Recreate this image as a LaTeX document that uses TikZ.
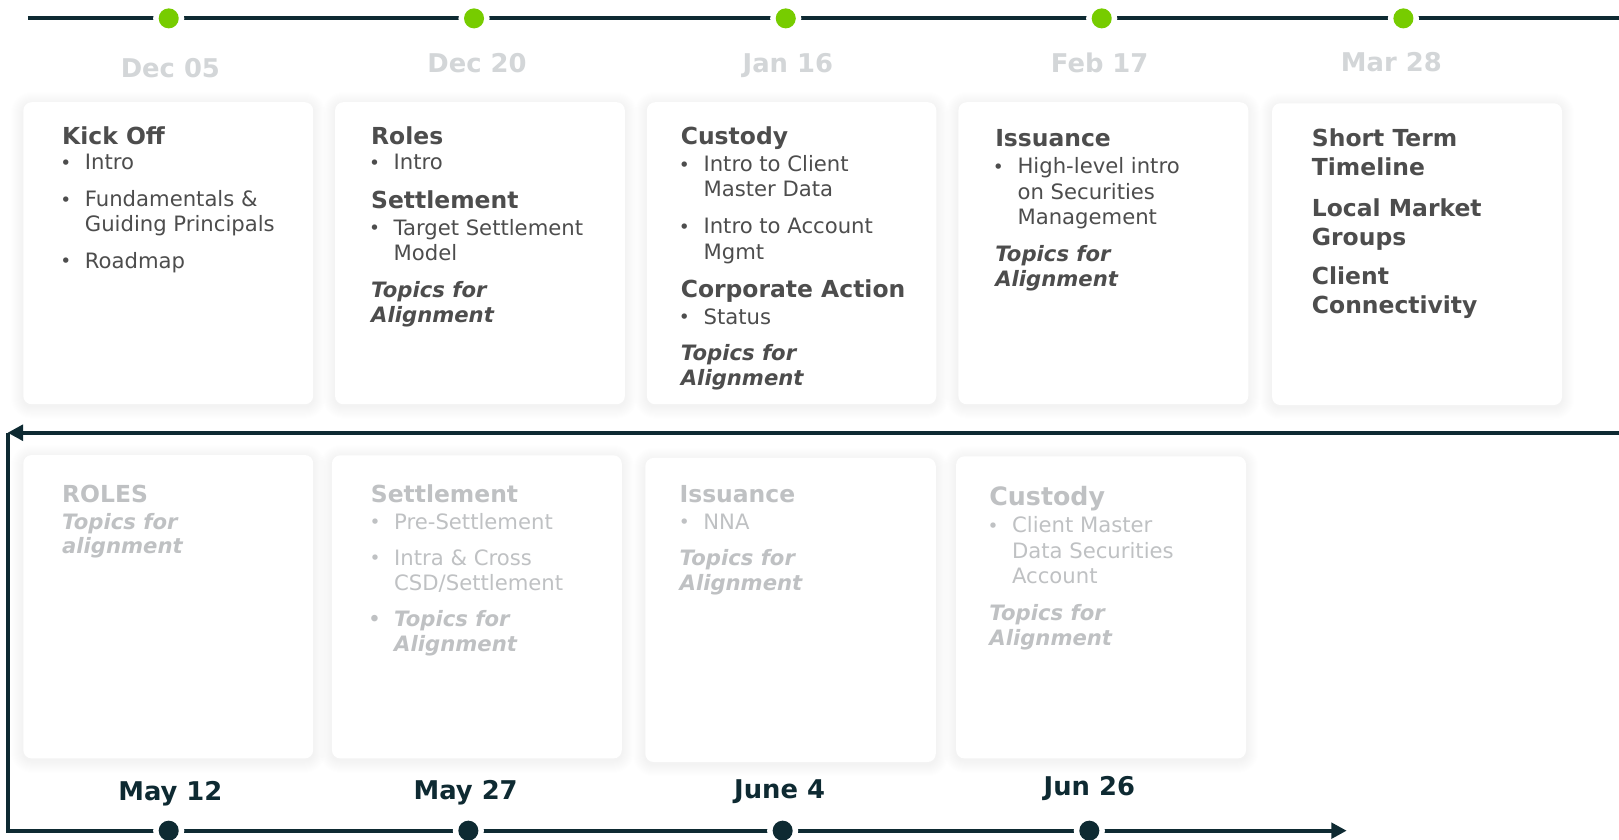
\documentclass[tikz,border=0pt]{standalone}
\usepackage{fontspec}
\setmainfont{DejaVu Sans}
\usetikzlibrary{arrows.meta}
\definecolor{ink}{HTML}{4D4D4D}
\definecolor{faint}{HTML}{BFC1C3}
\definecolor{datelight}{HTML}{D3D6D8}
\definecolor{navy}{HTML}{0E2A32}
\definecolor{lime}{HTML}{77CC00}
\newcommand\bl{\llap{\raisebox{0.5pt}{\fontsize{18pt}{18pt}\selectfont •}\hspace{13.2pt}}}
\newcommand\mkcard[5]{%
  \foreach \s in {1,...,12}{%
    \pgfmathsetmacro\rr{8+\s}%
    \fill[black, opacity=0.0055, rounded corners=\rr pt] ({#2-\s},{#3-\s+2}) rectangle ({#4+\s},{#5+\s+2});
  }%
  \pgfmathsetmacro\cw{#4-#2}\pgfmathsetmacro\ch{#5-#3}%
  \node[card, minimum width=\cw pt, minimum height=\ch pt] (#1) at ({(#2+#4)/2},{(#3+#5)/2}) {};
}
\begin{document}
\begin{tikzpicture}[x=1pt,y=-1pt,
  ttl/.style={anchor=base west, inner sep=0, text=ink, font=\fontsize{22.7pt}{27pt}\selectfont\bfseries},
  bdy/.style={anchor=base west, inner sep=0, text=ink, font=\fontsize{20.5pt}{24pt}\selectfont},
  tpc/.style={anchor=base west, inner sep=0, text=ink, font=\fontsize{20.5pt}{24pt}\selectfont\bfseries\itshape},
  past/.style={text=faint},
  topdate/.style={anchor=base, inner sep=0, text=datelight, font=\fontsize{25pt}{30pt}\selectfont\bfseries},
  botdate/.style={anchor=base, inner sep=0, text=navy, font=\fontsize{25pt}{30pt}\selectfont\bfseries},
  card/.style={fill=white, rounded corners=8pt, inner sep=0, outer sep=0},
  gdot/.style={circle, inner sep=0, minimum size=19.4pt, fill=lime, preaction={draw=white, line width=10.6pt}},
  ndot/.style={gdot, fill=navy},
  track/.style={draw=navy, line width=3.9pt},
  tip/.style={-{Triangle[length=15pt,width=15pt]}}
]
\useasboundingbox[fill=white] (0,0) rectangle (1568,813.5);

% cards
\mkcard{t1}{22.6}{99}{303.3}{391.5}
\mkcard{t2}{324.5}{99}{605.2}{391.5}
\mkcard{t3}{626.5}{99}{906.8}{391.5}
\mkcard{t4}{928.2}{99}{1209}{391.5}
\mkcard{t5}{1232}{100}{1512.8}{392.3}
\mkcard{b1}{22.6}{440.7}{303.3}{734.5}
\mkcard{b2}{321.5}{441}{602.2}{734.5}
\mkcard{b3}{625}{443.5}{906.3}{738}
\mkcard{b4}{926}{442}{1206.8}{734.5}

% tracks
\coordinate (ts) at (27.1,17.8);
\coordinate (te) at (1568,17.8);
\draw[track] (ts) -- (te);
\coordinate (rs) at (1568,419.1);
\coordinate (rc) at (7.3,419.1);
\coordinate (bc) at (7.3,804.5);
\coordinate (be) at (1304.3,804.5);
\draw[track, tip] (rs) -- (rc);
\draw[track, tip, line join=miter] (rc) -- (bc) -- (be);

\node[gdot] (g1) at (163.4,17.8) {};
\node[gdot] (g2) at (459.1,17.8) {};
\node[gdot] (g3) at (761,17.8) {};
\node[gdot] (g4) at (1067,17.8) {};
\node[gdot] (g5) at (1359.2,17.8) {};
\node[ndot] (n1) at (163.4,804.5) {};
\node[ndot] (n2) at (453.6,804.5) {};
\node[ndot] (n3) at (758,804.5) {};
\node[ndot] (n4) at (1055,804.5) {};

% dates
\node[topdate] (d1) at (165,74.9) {Dec 05};
\node[topdate] (d2) at (462,70.7) {Dec 20};
\node[topdate] (d3) at (763,70.7) {Jan 16};
\node[topdate] (d4) at (1065,70.7) {Feb 17};
\node[topdate] (d5) at (1347.5,69.7) {Mar 28};
\node[botdate] (e1) at (165,775.5) {May 12};
\node[botdate] (e2) at (451,774.5) {May 27};
\node[botdate] (e3) at (755,773) {June 4};
\node[botdate] (e4) at (1055,770.5) {Jun 26};

% top card 1
\node[ttl] (a1) at (60,139.5) {Kick Off};
\node[bdy] (a2) at (82,164.6) {\bl Intro};
\node[bdy] (a3) at (82,200.2) {\bl Fundamentals \&};
\node[bdy] (a4) at (82,224.4) {Guiding Principals};
\node[bdy] (a5) at (82,259.9) {\bl Roadmap};
% top card 2
\node[ttl] (b1) at (359.3,139.5) {Roles};
\node[bdy] (b2) at (381,164.6) {\bl Intro};
\node[ttl] (b3) at (359.3,201.8) {Settlement};
\node[bdy] (b4) at (381,227.6) {\bl Target Settlement};
\node[bdy] (b5) at (381,252.5) {Model};
\node[tpc] (b6) at (359.3,288) {Topics for};
\node[tpc] (b7) at (359.3,312) {Alignment};
% top card 3
\node[ttl] (c1) at (659.2,140.4) {Custody};
\node[bdy] (c2) at (681.2,166.3) {\bl Intro to Client};
\node[bdy] (c3) at (681.2,190.5) {Master Data};
\node[bdy] (c4) at (681.2,226.6) {\bl Intro to Account};
\node[bdy] (c5) at (681.2,250.9) {Mgmt};
\node[ttl] (c6) at (659.2,288) {Corporate Action};
\node[bdy] (c7) at (681.2,314.1) {\bl Status};
\node[tpc] (c8) at (659.2,349.3) {Topics for};
\node[tpc] (c9) at (659.2,372.9) {Alignment};
% top card 4
\node[ttl] (f1) at (963.7,142) {Issuance};
\node[bdy] (f2) at (985.3,168.5) {\bl High-level intro};
\node[bdy] (f3) at (985.3,193) {on Securities};
\node[bdy] (f4) at (985.3,217.9) {Management};
\node[tpc] (f5) at (963.7,253.4) {Topics for};
\node[tpc] (f6) at (963.7,277.7) {Alignment};
% top card 5
\node[ttl] (h1) at (1270.4,142) {Short Term};
\node[ttl] (h2) at (1270.4,170.2) {Timeline};
\node[ttl] (h3) at (1270.4,209.9) {Local Market};
\node[ttl] (h4) at (1270.4,237.3) {Groups};
\node[ttl] (h5) at (1270.4,275.4) {Client};
\node[ttl] (h6) at (1270.4,303.5) {Connectivity};

% bottom card 1
\node[ttl,past] (p1) at (60,486.9) {ROLES};
\node[tpc,past] (p2) at (60,512.7) {Topics for};
\node[tpc,past] (p3) at (60,535.9) {alignment};
% bottom card 2
\node[ttl,past] (q1) at (359,486.9) {Settlement};
\node[bdy,past] (q2) at (381.6,512.7) {\bl Pre-Settlement};
\node[bdy,past] (q3) at (381.6,547.2) {\bl Intra \& Cross};
\node[bdy,past] (q4) at (381.6,572.1) {CSD/Settlement};
\node[tpc,past] (q5) at (381.6,606.3) {\bl Topics for};
\node[tpc,past] (q6) at (381.6,631.2) {Alignment};
% bottom card 3
\node[ttl,past] (r1) at (658,487) {Issuance};
\node[bdy,past] (r2) at (681,512.7) {\bl NNA};
\node[tpc,past] (r3) at (658,547.2) {Topics for};
\node[tpc,past] (r4) at (658,572) {Alignment};
% bottom card 4
\node[ttl,past,font=\fontsize{24.5pt}{29pt}\selectfont\bfseries] (s1) at (958,490) {Custody};
\node[bdy,past] (s2) at (980,516) {\bl Client Master};
\node[bdy,past] (s3) at (980,541) {Data Securities};
\node[bdy,past] (s4) at (980,565) {Account};
\node[tpc,past] (s5) at (958,601) {Topics for};
\node[tpc,past] (s6) at (958,625) {Alignment};
\end{tikzpicture}
\end{document}
